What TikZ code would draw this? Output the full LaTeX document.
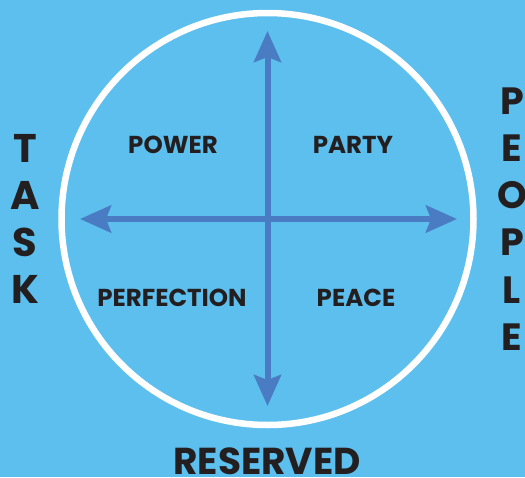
\documentclass[tikz,border=0pt]{standalone}
\usepackage{fontspec}
\setmainfont{Poppins}
\usetikzlibrary{arrows.meta}
\definecolor{bg}{HTML}{5CBFEE}
\definecolor{axis}{HTML}{4A7CC3}
\definecolor{ink}{HTML}{231F20}
\tikzset{
  axisline/.style={draw=axis, line width=6pt, -{Stealth[length=31pt, width=27pt, inset=5pt]}},
  quad/.style={font=\fontsize{24.5pt}{24.5pt}\selectfont\bfseries, text=ink, inner sep=0pt},
  side/.style={font=\fontsize{40pt}{47.3pt}\selectfont\bfseries, text=ink, inner sep=0pt, align=center},
}
\begin{document}
\begin{tikzpicture}[x=1pt, y=-1pt]
  \fill[bg] (0,0) rectangle (525,477);
  \useasboundingbox (0,0) rectangle (525,477);
  \node[circle, draw=white, line width=6.5pt, minimum size=412pt, inner sep=0pt] (ring) at (267.5,219) {};
  \coordinate (c) at (267.5,219);
  \coordinate (top) at (267.5,31);
  \coordinate (bottom) at (267.5,406);
  \coordinate (left) at (80,219);
  \coordinate (right) at (457,219);
  \draw[axisline] (c) -- (top);
  \draw[axisline] (c) -- (bottom);
  \draw[axisline] (c) -- (left);
  \draw[axisline] (c) -- (right);
  \node[quad] (power) at (173,145) {POWER};
  \node[quad] (party) at (353,145) {PARTY};
  \node[quad] (perf) at (172,298) {PERFECTION};
  \node[quad] (peace) at (356,298) {PEACE};
  \node[side] (task) at (25,219) {T\\A\\S\\K};
  \node[side, font=\fontsize{38pt}{47.2pt}\selectfont\bfseries] (people) at (512,219) {P\\E\\O\\P\\L\\E};
  \node[quad, font=\fontsize{37.5pt}{37.5pt}\selectfont\bfseries] (reserved) at (267,461) {RESERVED};
\end{tikzpicture}
\end{document}
